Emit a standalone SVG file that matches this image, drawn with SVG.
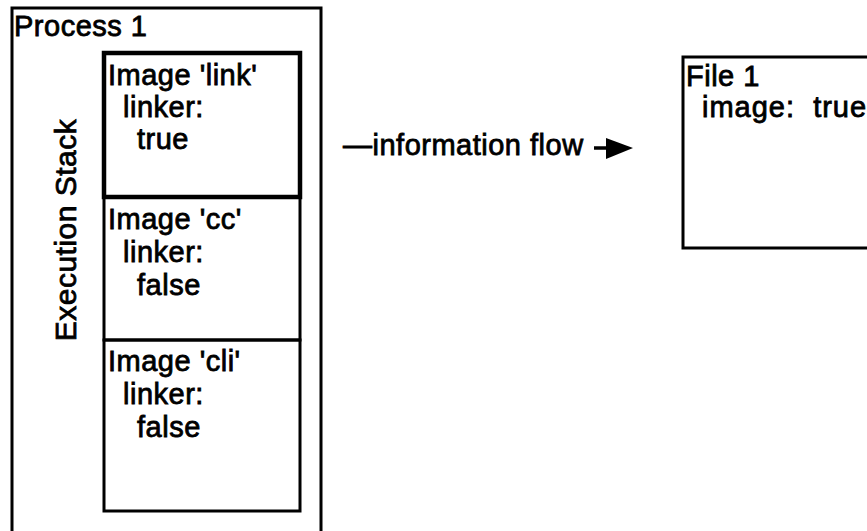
<svg xmlns="http://www.w3.org/2000/svg" width="867" height="531" viewBox="0 0 867 531">
<style>
text{font-family:"Liberation Sans",Arial,sans-serif;font-size:29px;font-weight:normal;fill:#000;stroke:#000;stroke-width:0.8;letter-spacing:0.5px}
.box{fill:none;stroke:#000;stroke-width:3}
.thick{fill:none;stroke:#000;stroke-width:4.5}
</style>
<rect width="867" height="531" fill="#fff"/>
<g id="process1">
<path class="box" d="M12,540 V8 H321 V540"/>
<text x="14" y="36">Process 1</text>
<text transform="translate(76,230) rotate(-90)" text-anchor="middle" style="font-size:30px">Execution Stack</text>
</g>
<g id="image-cc">
<rect class="box" x="104" y="197" width="196" height="143"/>
<text x="108" y="229">Image 'cc'</text>
<text x="123" y="262">linker:</text>
<text x="137" y="295">false</text>
</g>
<g id="image-cli">
<rect class="box" x="104" y="340" width="196" height="171"/>
<text x="108" y="371">Image 'cli'</text>
<text x="123" y="404">linker:</text>
<text x="137" y="437">false</text>
</g>
<g id="image-link">
<rect class="thick" x="104" y="53" width="196" height="144"/>
<text x="108" y="85">Image 'link'</text>
<text x="123" y="117">linker:</text>
<text x="137" y="149">true</text>
</g>
<g id="file1">
<path class="box" d="M880,57 H683 V248 H880"/>
<text x="686" y="86">File 1</text>
<text x="702" y="117" xml:space="preserve" style="letter-spacing:1px">image:  true</text>
</g>
<g id="connectors">
<text x="343" y="155">—information flow</text>
<line x1="594" y1="148" x2="610" y2="148" stroke="#000" stroke-width="3.5"/>
<polygon points="606,138 633,148 606,159" fill="#000"/>
</g>
</svg>
